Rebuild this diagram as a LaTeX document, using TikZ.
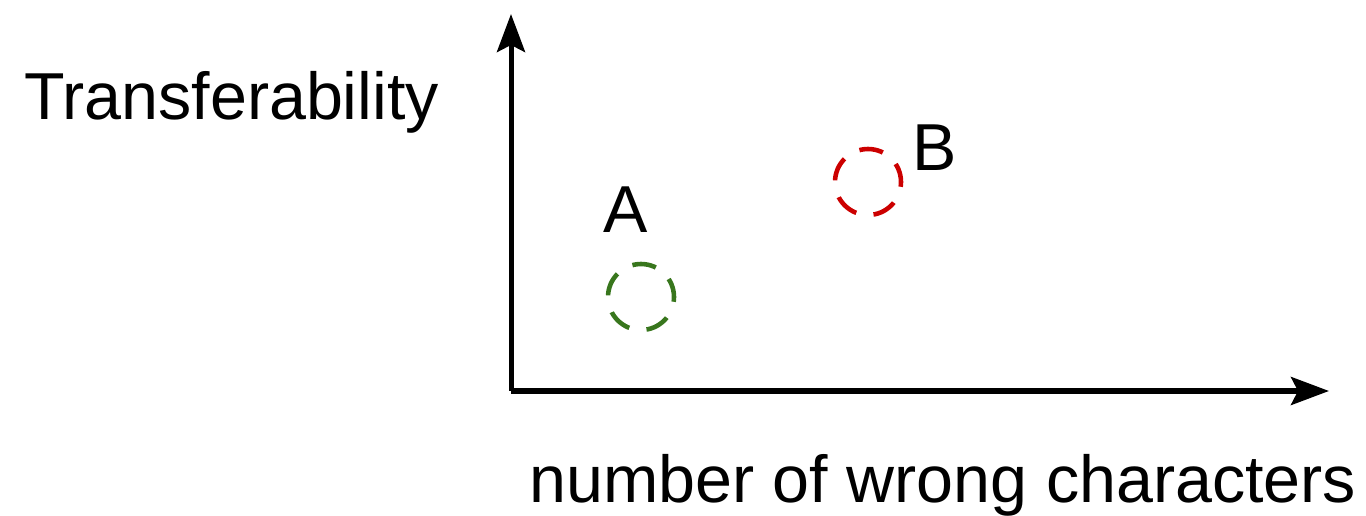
\documentclass[tikz,border=0pt]{standalone}
\usepackage{fontspec}
\setmainfont{Liberation Sans}
\usetikzlibrary{positioning,arrows.meta}
\definecolor{ptgreen}{HTML}{38761D}
\definecolor{ptred}{HTML}{CC0000}
\tikzset{
  axis/.style  ={line width=2.85pt, -{Stealth[length=7.6mm, width=5.6mm, inset=1.4mm]}},
  spot/.style  ={circle, draw=#1, line width=2.6pt, minimum size=13.2mm, inner sep=0pt,
                 dash pattern=on 4.8mm off 3.5mm, dash phase=1mm},
  lbl/.style   ={font=\fontsize{37.8}{44}\selectfont, inner sep=0pt},
}

\begin{document}
\begin{tikzpicture}[x=0.02cm, y=-0.02cm]
  \useasboundingbox (0,0) rectangle (1366,516);

  % axes
  \coordinate (o) at (511,391);
  \coordinate (ytop) at (511,14);
  \coordinate (xend) at (1329,391);
  \draw[axis] (o) -- (ytop);
  \draw[axis] (o) -- (xend);

  \node[lbl, anchor=base west] (ylab) at (24,120) {Transferability};
  \node[lbl, anchor=base west] (xlab) at (529,503) {number of wrong characters};

  % the two points
  \node[spot=ptgreen] (ptA) at (641,297) {};
  \node[spot=ptred]   (ptB) at (868,182) {};
  \node[lbl, anchor=base] (labA) at (626,233) {A};
  \node[lbl, anchor=base] (labB) at (935,171) {B};
\end{tikzpicture}
\end{document}
